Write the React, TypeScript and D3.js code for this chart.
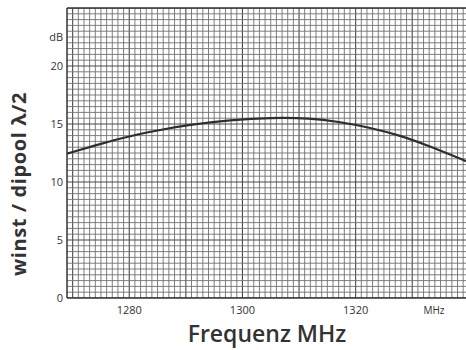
import React from "react";
import * as d3 from "d3";

const freqs = [1269, 1275, 1280, 1285, 1290, 1298, 1305, 1312, 1317, 1322, 1328, 1333, 1339.5];
const gains = [12.45, 13.3, 13.95, 14.45, 14.9, 15.35, 15.55, 15.5, 15.2, 14.75, 14.0, 13.1, 11.8];
const xTicks = [1280, 1300, 1320];
const yTicks = [0, 5, 10, 15, 20];
const xUnit = "MHz";
const yUnit = "dB";
const xTitle = "Frequenz MHz";
const yTitle = "winst / dipool λ/2";

const W = 466;
const H = 350;
const left = 67;
const right = 466;
const top = 8;
const bottom = 298;

export default function App() {
  const x = d3.scaleLinear().domain([1269, 1339.5]).range([left, right]);
  const y = d3.scaleLinear().domain([0, 25]).range([bottom, top]);

  const vLines = d3.range(1270, 1340, 1);
  const hLines = d3.range(0, 25.01, 0.5);

  const line = d3
    .line<number>()
    .x((_, i) => x(freqs[i]))
    .y((d) => y(d))
    .curve(d3.curveBasis);

  const textColor = "#333";
  const font = "'Open Sans', 'DejaVu Sans', sans-serif";

  return (
    <svg
      width={W}
      height={H}
      style={{ position: "absolute", left: 0, top: 0, background: "#fff" }}
    >
      <rect x={0} y={0} width={W} height={H} fill="#fff" />
      <defs>
        <clipPath id="plotclip">
          <rect x={left} y={top} width={right - left} height={bottom - top} />
        </clipPath>
      </defs>
      <g clipPath="url(#plotclip)">
        {vLines.map((v) => (
          <line
            key={"v" + v}
            x1={x(v)}
            x2={x(v)}
            y1={top}
            y2={bottom}
            stroke={v % 10 === 0 ? "#4a4a4a" : "#707070"}
            strokeWidth={v % 10 === 0 ? 1.1 : 0.9}
          />
        ))}
        {hLines.map((h) => (
          <line
            key={"h" + h}
            x1={left}
            x2={right}
            y1={y(h)}
            y2={y(h)}
            stroke={h % 5 === 0 ? "#4a4a4a" : "#707070"}
            strokeWidth={h % 5 === 0 ? 1.1 : 0.9}
          />
        ))}
        <path d={line(gains) || ""} fill="none" stroke="#2e2e2e" strokeWidth={2.2} />
      </g>
      <line x1={left} x2={left} y1={top} y2={bottom} stroke="#333" strokeWidth={1.5} />
      <line x1={left} x2={right} y1={top} y2={top} stroke="#333" strokeWidth={1.3} />
      <line x1={left} x2={right} y1={bottom} y2={bottom} stroke="#333" strokeWidth={1.5} />

      {yTicks.map((t) => (
        <text
          key={"yt" + t}
          x={left - 4}
          y={y(t)}
          dy="0.35em"
          textAnchor="end"
          fontFamily={font}
          fontSize={11}
          fill={textColor}
        >
          {t}
        </text>
      ))}
      <text
        x={left - 4}
        y={y(22.5)}
        dy="0.35em"
        textAnchor="end"
        fontFamily={font}
        fontSize={11}
        fill={textColor}
      >
        {yUnit}
      </text>
      {xTicks.map((t) => (
        <text
          key={"xt" + t}
          x={x(t)}
          y={bottom + 16}
          textAnchor="middle"
          fontFamily={font}
          fontSize={11}
          fill={textColor}
        >
          {t}
        </text>
      ))}
      <text
        x={434}
        y={bottom + 16}
        textAnchor="middle"
        fontFamily={font}
        fontSize={10}
        fill={textColor}
      >
        {xUnit}
      </text>
      <text
        x={267}
        y={342}
        textAnchor="middle"
        fontFamily={font}
        fontSize={23}
        fontWeight={600}
        fill={textColor}
      >
        {xTitle}
      </text>
      <text
        transform={`translate(26, 184) rotate(-90)`}
        textAnchor="middle"
        fontFamily={font}
        fontSize={20}
        fontWeight={700}
        letterSpacing={0.6}
        fill={textColor}
      >
        {yTitle}
      </text>
    </svg>
  );
}
